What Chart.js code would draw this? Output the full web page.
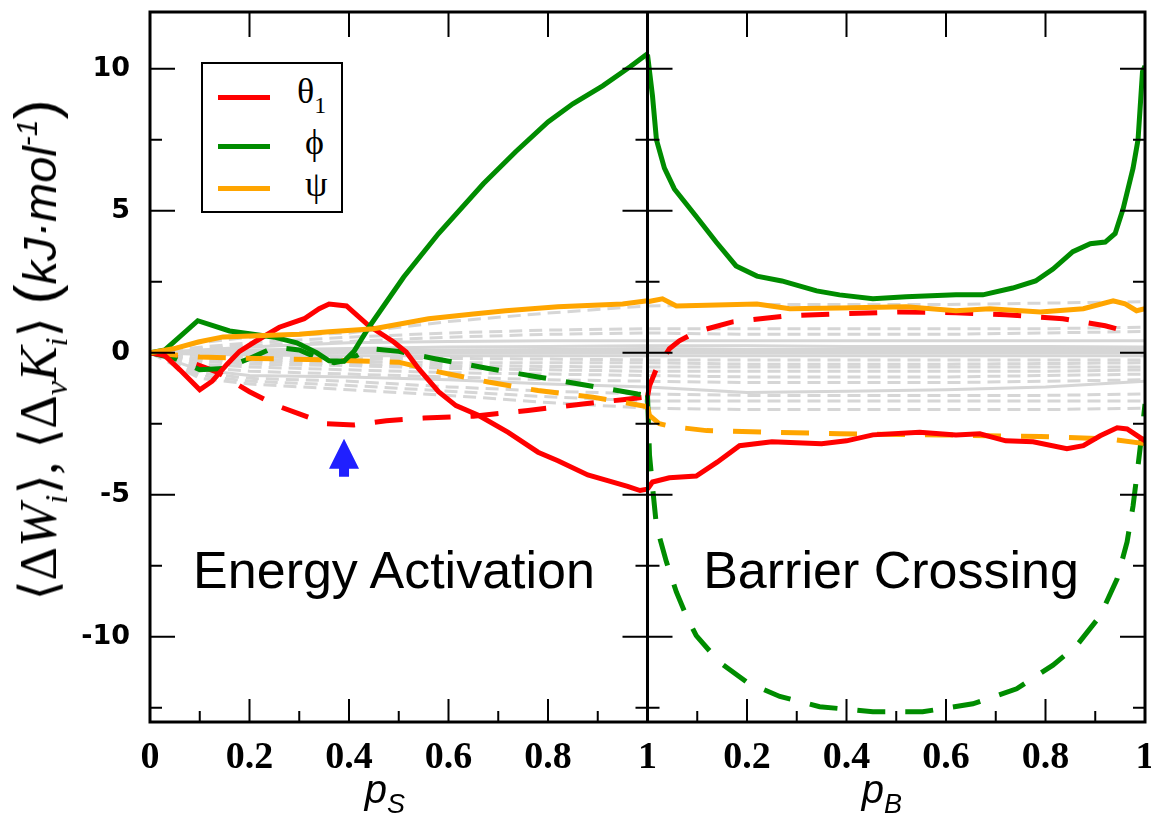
<!DOCTYPE html>
<html>
<head>
<meta charset="utf-8">
<script src="https://cdn.jsdelivr.net/npm/chart.js@4.4.1/dist/chart.umd.min.js"></script>
<style>
  body { margin: 0; background: #fff; }
  #wrap { position: relative; width: 1151px; height: 818px; }
  #chart { position: absolute; left: 0; top: 0; }
  .txt { position: absolute; white-space: nowrap; color: #000; }
  .big { font-family: "Liberation Sans", Arial, sans-serif; font-size: 52px; transform: translate(-50%, -50%); }
  .xt { font-family: "Liberation Sans", Arial, sans-serif; font-size: 40px; font-style: italic; transform: translate(-50%, -50%); }
  .xt sub { font-size: 27px; vertical-align: -10px; }
  #ytitle { left: 38px; top: 350px; font-size: 52px;
            transform: translate(-50%, -50%) rotate(-90deg); }
  #ytitle .m { font-family: "Liberation Serif", "Times New Roman", serif; }
  #ytitle .u { font-family: "Liberation Sans", Arial, sans-serif; font-style: italic; font-size: 47px; }
  #ytitle sub { font-size: 32px; vertical-align: -11px; }
  #ytitle sup { font-size: 30px; vertical-align: 19px; }
  #ytitle .par { font-family: "Liberation Sans", Arial, sans-serif; font-size: 60px; font-weight: 300; }
  #legend { position: absolute; left: 201px; top: 62px; width: 138px; height: 147px; border: 2px solid #000; background: #fff; }
  #legend .row { position: absolute; left: 0; width: 100%; }
  #legend .sw { position: absolute; left: 15px; width: 52px; height: 5px; }
  #legend .sym { position: absolute; font-family: "Liberation Serif", "Times New Roman", serif; font-size: 36px; line-height: 36px; }
  #legend .sym sub { font-size: 24px; vertical-align: -10px; }
</style>
</head>
<body>
<div id="wrap">
  <canvas id="chart" width="1151" height="818"></canvas>
  <div id="legend">
    <div class="row" style="top:31px"><div class="sw" style="background:#ff0000"></div><div class="sym" style="top:-22px;left:94px">&theta;<sub>1</sub></div></div>
    <div class="row" style="top:80px"><div class="sw" style="background:#008c00"></div><div class="sym" style="top:-20px;left:102px">&#x3D5;</div></div>
    <div class="row" style="top:122px"><div class="sw" style="background:#ffa500"></div><div class="sym" style="top:-20px;left:102px">&psi;</div></div>
  </div>
  <div class="txt big" style="left:394px; top:570px">Energy Activation</div>
  <div class="txt big" style="left:891px; top:570px">Barrier Crossing</div>
  <div class="txt xt" style="left:385px; top:793px">p<sub>S</sub></div>
  <div class="txt xt" style="left:882px; top:793px">p<sub>B</sub></div>
  <div class="txt" id="ytitle"><span class="m">&lang;&Delta;<i>W<sub>i</sub></i>&rang;, &lang;&Delta;<sub><i>v</i></sub><i>K<sub>i</sub></i>&rang;</span> <span class="par">(</span><span class="u">kJ&middot;mol<sup>-1</sup></span><span class="par">)</span></div>
</div>
<script>
// axis ticks
const xTickValues = [0, 0.2, 0.4, 0.6, 0.8, 1, 1.2, 1.4, 1.6, 1.8, 2];
const xTickLabels = ['0', '0.2', '0.4', '0.6', '0.8', '1', '0.2', '0.4', '0.6', '0.8', '1'];
const yTickValues = [-10, -5, 0, 5, 10];
const yTickLabels = ['-10', '-5', '0', '5', '10'];
const yMinorValues = [-12.5, -7.5, -2.5, 2.5, 7.5];

// Energy activation panel (p_S), [x, y]
const sThetaW = [[0,0],[0.03,-0.1],[0.06,-0.6],[0.1,-1.3],[0.125,-1.0],[0.155,-0.4],[0.18,0.05],[0.21,0.38],[0.26,0.9],[0.31,1.2],[0.34,1.55],[0.36,1.72],[0.395,1.65],[0.44,0.95],[0.49,0.38],[0.515,0.03],[0.54,-0.56],[0.58,-1.37],[0.615,-1.86],[0.66,-2.2],[0.72,-2.8],[0.78,-3.5],[0.82,-3.8],[0.88,-4.3],[0.92,-4.5],[0.96,-4.7],[0.985,-4.85],[1,-4.8]];
const sThetaK = [[0,0],[0.05,-0.15],[0.1,-0.45],[0.135,-0.68],[0.2,-1.37],[0.255,-1.86],[0.3,-2.15],[0.355,-2.5],[0.41,-2.54],[0.475,-2.39],[0.55,-2.3],[0.65,-2.23],[0.76,-2.03],[0.87,-1.8],[0.95,-1.65],[1,-1.55]];
const sPhiW = [[0,0],[0.03,0.1],[0.096,1.13],[0.16,0.77],[0.2,0.67],[0.25,0.55],[0.295,0.35],[0.335,0.0],[0.36,-0.28],[0.39,-0.3],[0.41,0.05],[0.44,0.9],[0.51,2.67],[0.58,4.2],[0.67,5.95],[0.735,7.08],[0.8,8.13],[0.85,8.77],[0.91,9.4],[0.965,10.07],[1,10.53]];
const sPhiK = [[0,0],[0.05,-0.2],[0.1,-0.6],[0.15,-0.55],[0.2,-0.2],[0.25,0.2],[0.3,0.1],[0.34,-0.2],[0.37,-0.35],[0.4,-0.25],[0.44,0.15],[0.5,0.05],[0.57,-0.2],[0.68,-0.55],[0.78,-0.85],[0.88,-1.15],[0.98,-1.45],[1,-1.5]];
const sPsiW = [[0,0],[0.047,0.14],[0.097,0.38],[0.147,0.56],[0.215,0.6],[0.3,0.65],[0.36,0.74],[0.45,0.85],[0.56,1.2],[0.65,1.37],[0.715,1.48],[0.82,1.62],[0.95,1.72],[1,1.83]];
const sPsiK = [[0,0],[0.1,-0.15],[0.215,-0.2],[0.35,-0.25],[0.5,-0.33],[0.58,-0.67],[0.68,-1.03],[0.78,-1.33],[0.89,-1.56],[0.97,-1.8],[1,-1.9]];

// Barrier crossing panel (p_B), [x, y]
const bThetaW = [[0,-4.8],[0.01,-4.55],[0.044,-4.4],[0.098,-4.34],[0.14,-3.85],[0.185,-3.27],[0.25,-3.13],[0.35,-3.2],[0.4,-3.1],[0.453,-2.89],[0.547,-2.8],[0.62,-2.89],[0.668,-2.85],[0.72,-3.1],[0.775,-3.13],[0.843,-3.38],[0.876,-3.27],[0.91,-2.92],[0.944,-2.64],[0.964,-2.68],[1,-3.1]];
const bThetaK = [[0,-1.55],[0.004,-1.16],[0.018,-0.56],[0.044,0.14],[0.064,0.42],[0.098,0.74],[0.171,1.09],[0.28,1.3],[0.386,1.37],[0.507,1.44],[0.62,1.41],[0.72,1.34],[0.835,1.2],[0.92,0.95],[0.97,0.72]];
const bPhiW = [[0,10.5],[0.01,9.05],[0.018,7.5],[0.034,6.5],[0.054,5.77],[0.098,4.8],[0.138,3.9],[0.178,3.06],[0.22,2.7],[0.27,2.53],[0.34,2.18],[0.386,2.04],[0.453,1.9],[0.52,1.97],[0.62,2.04],[0.674,2.04],[0.734,2.28],[0.78,2.53],[0.815,2.95],[0.855,3.56],[0.89,3.84],[0.92,3.9],[0.94,4.2],[0.956,5.07],[0.976,6.5],[0.986,7.5],[0.995,9.9],[1,10.1]];
const bPhiK = [[0,-1.5],[0.004,-3.6],[0.01,-4.7],[0.018,-6.1],[0.038,-7.36],[0.058,-8.42],[0.078,-9.26],[0.098,-9.96],[0.145,-10.9],[0.2,-11.6],[0.266,-12.1],[0.346,-12.46],[0.453,-12.64],[0.553,-12.64],[0.654,-12.36],[0.742,-11.83],[0.815,-11.0],[0.863,-10.3],[0.91,-9.26],[0.944,-7.96],[0.964,-6.66],[0.976,-5.39],[0.986,-3.98],[0.994,-2.8],[1,-1.8]];
const bPsiW = [[0,1.8],[0.03,1.9],[0.058,1.65],[0.22,1.72],[0.286,1.55],[0.386,1.58],[0.52,1.62],[0.62,1.48],[0.688,1.55],[0.79,1.44],[0.876,1.55],[0.936,1.83],[0.96,1.72],[0.983,1.48],[1,1.55]];
const bPsiK = [[0,-1.9],[0.004,-2.2],[0.024,-2.5],[0.05,-2.6],[0.119,-2.74],[0.25,-2.8],[0.386,-2.85],[0.59,-2.89],[0.79,-2.95],[0.925,-3.03],[1,-3.2]];

// the other (grey) coordinates
const grayLeftX = [0, 0.1, 0.2, 0.4, 0.6, 0.8, 1];
const grayLeft = [
  [0, 0.35, 0.55, 0.7, 1.1, 1.4, 1.65],
  [0, 0.2, 0.35, 0.55, 0.7, 0.8, 0.85],
  [0, 0.15, 0.25, 0.4, 0.55, 0.65, 0.7],
  [0, 0.1, 0.2, 0.35, 0.4, 0.42, 0.42],
  [0, 0.05, 0.1, 0.15, 0.2, 0.22, 0.25],
  [0, 0.02, 0.05, 0.08, 0.1, 0.12, 0.15],
  [0, 0.01, 0.02, 0.04, 0.05, 0.05, 0.05],
  [0, 0, 0, 0, 0, 0, 0],
  [0, -0.05, -0.08, -0.1, -0.1, -0.1, -0.1],
  [0, -0.1, -0.15, -0.2, -0.2, -0.22, -0.25],
  [0, -0.2, -0.25, -0.3, -0.35, -0.35, -0.35],
  [0, -0.25, -0.3, -0.4, -0.45, -0.48, -0.5],
  [0, -0.3, -0.4, -0.45, -0.55, -0.6, -0.65],
  [0, -0.4, -0.5, -0.6, -0.7, -0.75, -0.8],
  [0, -0.5, -0.65, -0.75, -0.85, -0.95, -1.0],
  [0, -0.6, -0.8, -0.85, -0.95, -1.1, -1.2],
  [0, -0.7, -0.9, -1.0, -1.2, -1.35, -1.45],
  [0, -0.8, -1.0, -1.15, -1.35, -1.55, -1.7],
  [0, -0.9, -1.1, -1.3, -1.5, -1.75, -1.95]
];
const grayRightX = [0, 0.2, 0.4, 0.6, 0.8, 1];
const grayRight = [
  [1.65, 1.7, 1.7, 1.7, 1.75, 1.8],
  [0.85, 0.85, 0.85, 0.85, 0.85, 0.9],
  [0.7, 0.65, 0.65, 0.65, 0.7, 0.75],
  [0.42, 0.42, 0.42, 0.42, 0.42, 0.42],
  [0.25, 0.25, 0.22, 0.22, 0.22, 0.2],
  [0.15, 0.12, 0.12, 0.12, 0.12, 0.12],
  [0.05, 0.05, 0.05, 0.05, 0.05, 0.05],
  [0, 0, 0, 0, 0, 0],
  [-0.1, -0.1, -0.1, -0.1, -0.1, -0.1],
  [-0.25, -0.25, -0.25, -0.25, -0.25, -0.25],
  [-0.35, -0.4, -0.4, -0.4, -0.38, -0.35],
  [-0.5, -0.5, -0.5, -0.5, -0.5, -0.5],
  [-0.65, -0.65, -0.65, -0.65, -0.65, -0.6],
  [-0.8, -0.85, -0.85, -0.85, -0.8, -0.75],
  [-1.0, -1.05, -1.05, -1.05, -1.0, -0.95],
  [-1.2, -1.4, -1.35, -1.3, -1.2, -1.0],
  [-1.45, -1.5, -1.5, -1.5, -1.5, -1.45],
  [-1.7, -1.7, -1.7, -1.7, -1.7, -1.7],
  [-1.95, -2.0, -2.0, -2.0, -2.0, -1.95]
];
const grayDashed = [1, 1, 1, 0, 0, 0, 0, 0, 0, 1, 1, 1, 1, 1, 1, 0, 1, 1, 1];

const RED = '#ff0000', GREEN = '#008c00', ORANGE = '#ffa500', GRAY = '#d6d6d6';
const DASH = [28, 20];

function line(points, color, dashed, shift) {
  return {
    data: points.map(p => ({ x: p[0] + shift, y: p[1] })),
    borderColor: color,
    borderWidth: 5,
    borderDash: dashed ? DASH : [],
    pointRadius: 0,
    tension: 0,
    order: 0
  };
}

function grayLine(xs, ys, dashed, shift) {
  return {
    data: xs.map((x, i) => ({ x: x + shift, y: ys[i] })),
    borderColor: GRAY,
    borderWidth: 3,
    borderDash: dashed ? [13, 7] : [],
    pointRadius: 0,
    tension: 0,
    order: 5
  };
}

const datasets = [
  line(sPsiW, ORANGE, false, 0), line(sPhiW, GREEN, false, 0), line(sThetaW, RED, false, 0),
  line(sPsiK, ORANGE, true, 0), line(sPhiK, GREEN, true, 0), line(sThetaK, RED, true, 0),
  line(bPsiW, ORANGE, false, 1), line(bPhiW, GREEN, false, 1), line(bThetaW, RED, false, 1),
  line(bPsiK, ORANGE, true, 1), line(bPhiK, GREEN, true, 1), line(bThetaK, RED, true, 1)
];
grayLeft.forEach((ys, i) => datasets.push(grayLine(grayLeftX, ys, grayDashed[i], 0)));
grayRight.forEach((ys, i) => datasets.push(grayLine(grayRightX, ys, grayDashed[i], 1)));

// frame, inward ticks and the blue arrow
const framePlugin = {
  id: 'frame',
  afterDraw(chart) {
    const ctx = chart.ctx;
    const a = chart.chartArea;
    const xs = chart.scales.x, ys = chart.scales.y;
    const mid = xs.getPixelForValue(1);
    ctx.save();
    ctx.strokeStyle = '#000';
    ctx.lineWidth = 2;
    ctx.beginPath();
    const yTick = (v, len) => {
      const py = ys.getPixelForValue(v);
      ctx.moveTo(a.left, py); ctx.lineTo(a.left + len, py);
      ctx.moveTo(mid - len, py); ctx.lineTo(mid + len, py);
      ctx.moveTo(a.right - len, py); ctx.lineTo(a.right, py);
    };
    yTickValues.forEach(v => yTick(v, 25));
    yMinorValues.forEach(v => yTick(v, 12));
    for (let i = 1; i < 20; i++) {
      const px = xs.getPixelForValue(i / 10);
      const major = i % 2 === 0;
      ctx.moveTo(px, a.bottom); ctx.lineTo(px, a.bottom - (major ? 23 : 11));
      if (major) { ctx.moveTo(px, a.top); ctx.lineTo(px, a.top + 25); }
    }
    ctx.stroke();
    ctx.lineWidth = 3;
    ctx.strokeRect(a.left, a.top, a.right - a.left, a.bottom - a.top);
    ctx.beginPath();
    ctx.moveTo(mid, a.top); ctx.lineTo(mid, a.bottom);
    ctx.stroke();
    // arrow under the minimum of the dashed red curve
    const ax = xs.getPixelForValue(0.39), ay = ys.getPixelForValue(-3.03);
    ctx.fillStyle = '#2020ff';
    ctx.beginPath();
    ctx.moveTo(ax, ay);
    ctx.lineTo(ax + 15, ay + 30);
    ctx.lineTo(ax + 5, ay + 30);
    ctx.lineTo(ax + 5, ay + 38);
    ctx.lineTo(ax - 5, ay + 38);
    ctx.lineTo(ax - 5, ay + 30);
    ctx.lineTo(ax - 15, ay + 30);
    ctx.closePath();
    ctx.fill();
    ctx.restore();
  }
};

const noPad = s => { s.paddingTop = 0; s.paddingBottom = 0; s.paddingLeft = 0; s.paddingRight = 0; };

new Chart(document.getElementById('chart').getContext('2d'), {
  type: 'line',
  data: { datasets: datasets },
  options: {
    responsive: false,
    animation: false,
    layout: { padding: { left: 0, top: 12, right: 6, bottom: 0 } },
    plugins: { legend: { display: false }, tooltip: { enabled: false } },
    scales: {
      x: {
        type: 'linear', min: 0, max: 2,
        grid: { display: false }, border: { display: false },
        afterBuildTicks: s => { s.ticks = xTickValues.map(v => ({ value: v })); },
        afterFit: s => { s.height = 96; noPad(s); },
        ticks: {
          autoSkip: false, maxRotation: 0, padding: 5, color: '#000',
          font: { family: 'Liberation Serif', size: 38, weight: 'bold' },
          callback: (v, i) => xTickLabels[i]
        }
      },
      y: {
        type: 'linear', min: -13, max: 12,
        grid: { display: false }, border: { display: false },
        afterBuildTicks: s => { s.ticks = yTickValues.map(v => ({ value: v })); },
        afterFit: s => { s.width = 150; noPad(s); },
        ticks: {
          padding: 12, color: '#000',
          font: { family: 'DejaVu Sans', size: 27, weight: 'bold' },
          callback: (v, i) => yTickLabels[i]
        }
      }
    }
  },
  plugins: [framePlugin]
});
</script>
</body>
</html>
